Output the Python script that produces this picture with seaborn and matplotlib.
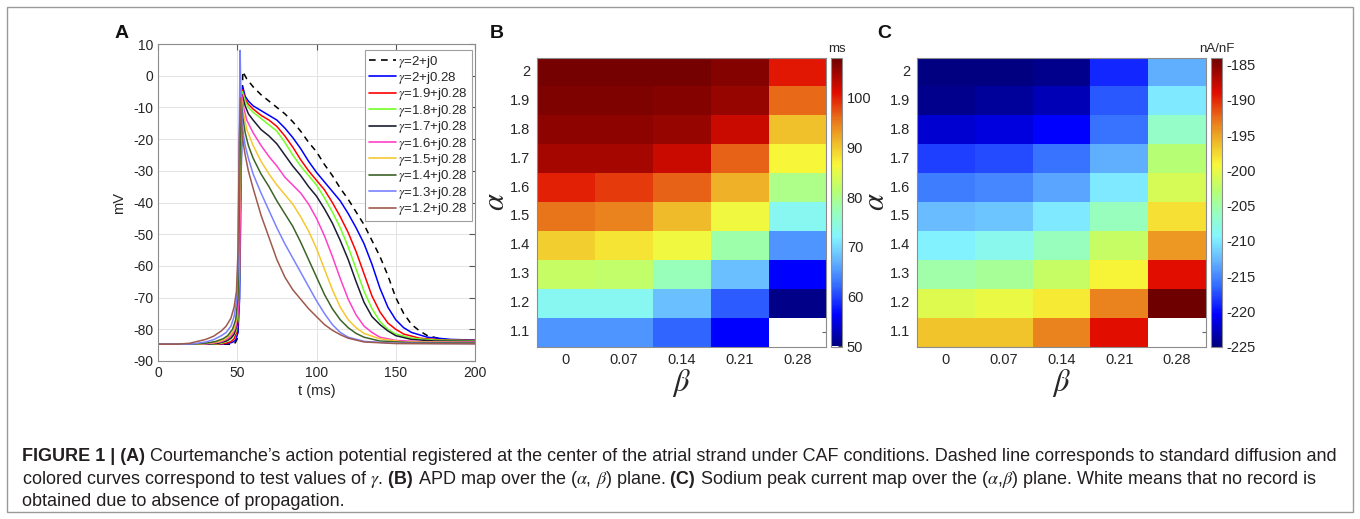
import numpy as np
import pandas as pd
import matplotlib
matplotlib.use("Agg")
import matplotlib.pyplot as plt
import seaborn as sns
from matplotlib import font_manager
from matplotlib.patches import Rectangle
from matplotlib.colors import LinearSegmentedColormap

# ------------------------------------------------------------------ data
# Panel A : action potentials (t in ms, V in mV)
t_g2_j0 = [0, 45, 48, 49, 50, 51, 52, 53.5, 56, 60, 65, 70, 75, 80, 85, 90, 95, 100, 105, 110,
           115, 120, 125, 130, 135, 140, 145, 150, 155, 160, 165, 170, 180, 190, 200]
v_g2_j0 = [-84.7, -84.7, -84.7, -84, -83, -70, -40, 1.3, -1, -3.5, -6, -8, -10, -12, -14.5, -17.5,
           -21, -24, -28, -31.5, -35.5, -39, -43, -47, -52, -57, -63, -70, -75, -78.5, -80.5, -82,
           -83.2, -83.5, -83.6]

t_g20 = [0, 40, 44, 47, 49, 50.5, 51.5, 52.5, 53.5, 55, 57, 60, 65, 70, 75, 80, 85, 90, 95, 100,
         105, 110, 115, 120, 125, 130, 135, 140, 145, 150, 155, 160, 170, 185, 200]
v_g20 = [-84.7, -84.7, -84.5, -84.1, -83.4, -81, -70, -30, -3.5, -6.5, -8, -9.5, -11, -12.5, -14,
         -16.5, -19.5, -23, -27, -30.5, -33.5, -36.5, -39.5, -43.5, -48, -53, -59.5, -67, -73,
         -77, -79.5, -81, -82.5, -83.2, -83.4]

t_g19 = [0, 38, 43, 46, 48, 50, 51, 52, 53.3, 55, 57, 60, 65, 70, 75, 80, 85, 90, 95, 100, 105,
         110, 115, 120, 125, 130, 135, 140, 145, 150, 155, 165, 180, 200]
v_g19 = [-84.7, -84.7, -84.4, -83.9, -83, -80.5, -72, -35, -4.5, -7.5, -9, -10.5, -12.5, -14, -16,
         -19, -22.5, -26.5, -30, -33, -36, -40, -44.5, -49.5, -55.5, -62.5, -69.5, -74.5, -78,
         -80, -81.5, -82.8, -83.4, -83.5]

t_g18 = [0, 35, 40, 44, 47, 49, 50.5, 51.5, 52.2, 53.2, 55, 57, 60, 65, 70, 75, 80, 85, 90, 95,
         100, 105, 110, 115, 120, 125, 130, 135, 140, 145, 150, 160, 175, 200]
v_g18 = [-84.7, -84.7, -84.4, -83.7, -82.5, -81, -77, -62, -35, -5, -8, -10, -11.5, -13.5, -15.5,
         -17.5, -21, -25, -28.5, -31.5, -34.5, -38.5, -43, -48, -54, -61, -68, -73.5, -77.5, -80,
         -81.5, -82.8, -83.4, -83.6]

t_g17 = [0, 32, 38, 43, 46, 48, 50, 51.3, 52.2, 53, 55, 57, 60, 65, 70, 75, 80, 85, 90, 95, 100,
         105, 110, 115, 120, 125, 130, 135, 140, 145, 150, 160, 175, 200]
v_g17 = [-84.7, -84.7, -84.4, -83.7, -82.8, -81.5, -78.5, -65, -30, -6, -9.5, -12, -14, -17, -19,
         -21.5, -25, -28.5, -31.5, -35, -38, -42, -46.5, -52, -58, -65, -71.5, -76, -78.5, -80.5,
         -82, -83.2, -83.7, -83.8]

t_g16 = [0, 28, 35, 40, 44, 47, 49, 50.5, 51.5, 52.2, 52.8, 54, 56, 60, 65, 70, 75, 80, 85, 90,
         95, 100, 105, 110, 115, 120, 125, 130, 135, 140, 150, 170, 200]
v_g16 = [-84.7, -84.7, -84.4, -83.9, -83, -81.5, -79.5, -75, -60, -30, -6, -10, -14, -18, -22,
         -25.5, -28.5, -32, -34.5, -37, -40.5, -45, -50.5, -57, -64, -70.5, -75.5, -79, -81,
         -82.5, -83.5, -84, -84]

t_g15 = [0, 25, 32, 38, 42, 45, 47.5, 49.5, 50.8, 51.8, 52.5, 54, 56, 60, 65, 70, 75, 80, 85, 90,
         95, 100, 105, 110, 115, 120, 125, 130, 140, 155, 200]
v_g15 = [-84.7, -84.7, -84.4, -83.9, -83.2, -82, -80.5, -77, -66, -30, -7, -12, -17, -22, -27,
         -31, -34.5, -37.5, -40.5, -44.5, -49, -54.5, -61, -67.5, -73, -77, -79.5, -81.3, -83,
         -84, -84.2]

t_g14 = [0, 22, 30, 36, 41, 44, 47, 49, 50.5, 51.5, 52.3, 53.5, 55, 57, 60, 65, 70, 75, 80, 85,
         90, 95, 100, 105, 110, 115, 120, 125, 130, 140, 160, 200]
v_g14 = [-84.7, -84.7, -84.4, -83.9, -83, -82, -80, -77, -70, -35, -7, -13, -18, -22, -26, -31,
         -35, -39.5, -43.5, -47.5, -52.5, -58, -63.5, -69, -73.5, -77, -79.5, -81.3, -82.5,
         -83.7, -84.2, -84.3]

t_g13 = [0, 15, 22, 30, 35, 40, 43, 46, 48, 49.5, 50.5, 51.2, 51.8, 52.3, 53, 54, 55, 57, 60, 65,
         70, 75, 80, 85, 90, 95, 100, 105, 110, 115, 120, 130, 150, 200]
v_g13 = [-84.7, -84.7, -84.6, -84, -83.3, -82, -81, -79, -76, -71, -60, -20, 8, -5, -14, -19,
         -22, -26, -31, -37, -42.5, -48, -53, -57.5, -62, -66.5, -71, -75, -78.5, -81, -82.5,
         -83.8, -84.4, -84.5]

t_g12 = [0, 12, 20, 30, 35, 40, 43, 46, 48, 49.5, 50.5, 51.3, 52, 53, 54, 55, 57, 60, 65, 70, 75,
         80, 85, 90, 95, 100, 105, 110, 115, 120, 130, 150, 200]
v_g12 = [-84.7, -84.7, -84.4, -83.2, -82.2, -80.5, -79, -76.5, -73, -68, -55, -20, -7, -18, -22,
         -25, -30, -35.5, -44, -51, -58, -63.5, -67.5, -70.5, -73.5, -76, -78.5, -80.3, -81.7,
         -82.8, -84, -84.5, -84.6]

curve_labels = [r"$\gamma$=2+j0", r"$\gamma$=2+j0.28", r"$\gamma$=1.9+j0.28", r"$\gamma$=1.8+j0.28",
                r"$\gamma$=1.7+j0.28", r"$\gamma$=1.6+j0.28", r"$\gamma$=1.5+j0.28",
                r"$\gamma$=1.4+j0.28", r"$\gamma$=1.3+j0.28", r"$\gamma$=1.2+j0.28"]
curve_colors = ["#000000", "#0000FF", "#FF0000", "#73FF26", "#1C1C33", "#FF40C8",
                "#F5C832", "#3C6428", "#7A82FF", "#9E5A4C"]
curves = [(t_g2_j0, v_g2_j0), (t_g20, v_g20), (t_g19, v_g19), (t_g18, v_g18), (t_g17, v_g17),
          (t_g16, v_g16), (t_g15, v_g15), (t_g14, v_g14), (t_g13, v_g13), (t_g12, v_g12)]

# Panels B and C : maps over (alpha, beta)
alpha_labels = ["2", "1.9", "1.8", "1.7", "1.6", "1.5", "1.4", "1.3", "1.2", "1.1"]
beta_labels = ["0", "0.07", "0.14", "0.21", "0.28"]

apd_ms = [
    [107.5, 107.5, 107.5, 106.5, 100.5],
    [107.0, 107.0, 106.5, 105.5, 96.0],
    [106.0, 106.0, 105.5, 102.5, 90.5],
    [104.5, 104.5, 102.5, 96.5, 86.5],
    [100.0, 98.5, 96.5, 91.5, 80.0],
    [95.5, 94.5, 91.0, 86.0, 73.0],
    [89.5, 88.0, 86.0, 78.0, 65.0],
    [82.5, 82.0, 77.0, 68.0, 56.5],
    [73.0, 73.0, 68.0, 61.5, 50.5],
    [65.0, 65.0, 62.0, 56.5, np.nan],
]
ina_peak = [
    [-225.0, -225.0, -224.5, -219.0, -213.0],
    [-224.5, -224.0, -223.0, -217.0, -210.0],
    [-222.0, -221.5, -220.5, -216.0, -206.5],
    [-218.0, -217.5, -216.0, -213.0, -203.0],
    [-215.5, -215.0, -213.5, -210.0, -201.0],
    [-212.5, -212.0, -210.0, -206.0, -198.0],
    [-209.5, -208.5, -206.0, -202.0, -194.5],
    [-205.0, -204.5, -202.0, -199.0, -189.0],
    [-200.5, -200.0, -198.5, -193.5, -184.0],
    [-196.5, -196.5, -193.5, -189.0, np.nan],
]
apd_ticks = [50, 60, 70, 80, 90, 100]
ina_ticks = [-225, -220, -215, -210, -205, -200, -195, -190, -185]

caption_lines = [
    [("FIGURE 1 | (A)", True),
     (" Courtemanche\u2019s action potential registered at the center of the atrial strand under CAF "
      "conditions. Dashed line corresponds to standard diffusion and", False)],
    [("colored curves correspond to test values of $\\gamma$.", False), (" (B)", True),
     (" APD map over the ($\\alpha$, $\\beta$) plane.", False), (" (C)", True),
     (" Sodium peak current map over the ($\\alpha$,$\\beta$) plane. White means that no record is", False)],
    [("obtained due to absence of propagation.", False)],
]

# ------------------------------------------------------------------ style
sns.set_style("white")
avail = {f.name for f in font_manager.fontManager.ttflist}
base_font = "Liberation Sans" if "Liberation Sans" in avail else "DejaVu Sans"
cap_font = "Liberation Sans Narrow" if "Liberation Sans Narrow" in avail else base_font
plt.rcParams["font.family"] = [base_font, "DejaVu Sans"]
plt.rcParams["mathtext.fontset"] = "stix"
plt.rcParams["axes.unicode_minus"] = False
TXT = "#262626"
EDGE = "#8c8c8c"

# jet-like map with the softened mid tones seen in the printed figure
soft_jet = LinearSegmentedColormap.from_list("soft_jet", [
    (0.00, (0.00, 0.00, 0.50)),
    (0.11, (0.00, 0.00, 1.00)),
    (0.21, (0.20, 0.42, 1.00)),
    (0.30, (0.40, 0.72, 1.00)),
    (0.38, (0.52, 0.96, 1.00)),
    (0.47, (0.60, 1.00, 0.72)),
    (0.54, (0.72, 1.00, 0.45)),
    (0.63, (0.97, 0.97, 0.22)),
    (0.71, (0.94, 0.72, 0.16)),
    (0.79, (0.91, 0.44, 0.10)),
    (0.88, (0.88, 0.05, 0.00)),
    (1.00, (0.43, 0.00, 0.00)),
])

W, H = 1360, 519
fig = plt.figure(figsize=(W / 100, H / 100), dpi=100)


def ax_rect(l, t, r, b):
    return [l / W, 1 - b / H, (r - l) / W, (b - t) / H]


# ------------------------------------------------------------------ panel A
axA = fig.add_axes(ax_rect(158, 44, 475, 361))
for (tt, vv), lab, col in zip(curves, curve_labels, curve_colors):
    dashed = lab.endswith("j0")
    sns.lineplot(x=tt, y=vv, ax=axA, color=col, lw=1.1, label=lab,
                 sort=False, estimator=None)
    if dashed:
        axA.lines[-1].set_dashes((4.0, 3.2))
axA.set_xlim(0, 200)
axA.set_ylim(-90, 10)
axA.set_xticks([0, 50, 100, 150, 200])
axA.set_yticks(list(range(-90, 11, 10)))
axA.grid(True, color="#e3e3e3", lw=0.7)
axA.tick_params(direction="in", length=4, top=True, right=True, labelsize=10,
                colors=TXT, color="#555555")
for s in axA.spines.values():
    s.set_color(EDGE)
    s.set_linewidth(0.8)
axA.set_xlabel("t (ms)", fontsize=10.5, color=TXT, labelpad=3)
axA.set_ylabel("mV", fontsize=10.5, color=TXT, labelpad=5)
leg = axA.legend(loc="upper right", bbox_to_anchor=(0.99, 0.982), fontsize=9.5, frameon=True,
                 fancybox=False, framealpha=1, edgecolor="#a0a0a0", handlelength=2.0,
                 handletextpad=0.2, labelspacing=0.03, borderpad=0.3, borderaxespad=0)
leg.get_frame().set_linewidth(0.8)
for h in leg.get_lines():
    h.set_linewidth(1.2)


# ------------------------------------------------------------------ heatmaps
def heat(values, rect, crect, vmin, vmax, ticks, unit):
    ax = fig.add_axes(ax_rect(*rect))
    cax = fig.add_axes(ax_rect(*crect))
    df = pd.DataFrame(values, index=alpha_labels, columns=beta_labels)
    sns.heatmap(df, ax=ax, cbar_ax=cax, cmap=soft_jet, vmin=vmin, vmax=vmax,
                cbar_kws={"ticks": ticks}, linewidths=0)
    ax.set_yticklabels(alpha_labels, rotation=0, fontsize=10.5, color=TXT)
    ax.set_xticklabels(beta_labels, rotation=0, fontsize=10.5, color=TXT)
    ax.tick_params(direction="in", length=3, color="#666666", right=True, top=False, pad=5)
    for s in ax.spines.values():
        s.set_visible(True)
        s.set_color(EDGE)
        s.set_linewidth(0.8)
    ax.set_ylabel(r"$\alpha$", fontsize=22, color=TXT, labelpad=-1)
    ax.set_xlabel(r"$\beta$", fontsize=22, color=TXT, labelpad=0)
    cax.tick_params(direction="in", length=3, labelsize=10.5, labelcolor=TXT, color="#444444")
    cax.set_yticklabels([str(v) for v in ticks])
    cb = ax.collections[0].colorbar
    cb.outline.set_edgecolor(EDGE)
    cb.outline.set_linewidth(0.8)
    cax.set_title(unit, fontsize=9.5, color=TXT, pad=4)
    return ax


heat(apd_ms, (537, 57.5, 826.5, 346.5), (831, 57.5, 842, 346.5), 50, 108, apd_ticks, "ms")
heat(ina_peak, (917, 57.5, 1206, 346.5), (1211, 57.5, 1222, 346.5), -225, -184, ina_ticks, "nA/nF")

# ------------------------------------------------------------------ panel letters
for letter, x in (("A", 122), ("B", 497), ("C", 884)):
    fig.text(x / W, 1 - 33 / H, letter, fontsize=14, fontweight="bold", ha="center",
             va="center", color="#111111")

# ------------------------------------------------------------------ caption
fig.patches.append(Rectangle((7 / W, 1 - 512 / H), (1353 - 7) / W, (512 - 7) / H,
                             transform=fig.transFigure, fill=False, edgecolor="#9a9a9a",
                             lw=1.0))
renderer = fig.canvas.get_renderer()
baselines = [461, 484, 506]


def draw_caption(size):
    arts = []
    ends = []
    for y, pieces in zip(baselines, caption_lines):
        x = 22.0
        for txt, bold in pieces:
            t = fig.text(x / W, 1 - y / H, txt, fontsize=size, family=[cap_font, "DejaVu Sans"],
                         fontweight="bold" if bold else "normal", ha="left", va="baseline",
                         color="#231f20")
            arts.append(t)
            x += t.get_window_extent(renderer).width
        ends.append(x)
    return arts, ends


arts, ends = draw_caption(10.0)
scale = (1342 - 22) / (ends[0] - 22)
for a in arts:
    a.remove()
draw_caption(10.0 * scale)

fig.savefig("out.png", dpi=100)
